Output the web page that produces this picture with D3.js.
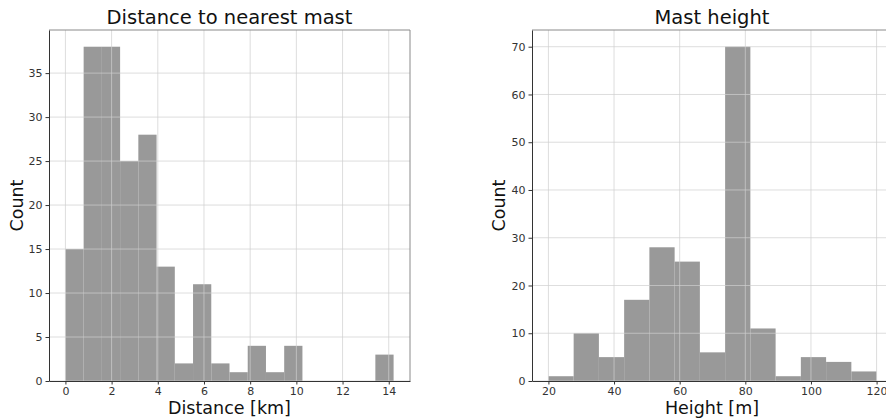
<!DOCTYPE html>
<html><head><meta charset="utf-8">
<script src="https://cdn.jsdelivr.net/npm/d3@7"></script>
<style>body{margin:0;background:#fff}svg{display:block}text{font-family:"DejaVu Sans",sans-serif}</style>
</head><body>
<svg id="c" width="886" height="418"></svg>
<script>
// Distance histogram (18 bins over 0..14.21 km)
const distMin = 0, distMax = 14.21;
const distCounts = [15, 38, 38, 25, 28, 13, 2, 11, 2, 1, 4, 1, 4, 0, 0, 0, 0, 3];
const distTicksX = [0, 2, 4, 6, 8, 10, 12, 14];
const distTicksY = [0, 5, 10, 15, 20, 25, 30, 35];
// Height histogram (13 bins over 20..120 m)
const hMin = 20, hMax = 120;
const hCounts = [1, 10, 5, 17, 28, 25, 6, 70, 11, 1, 5, 4, 2];
const hTicksX = [20, 40, 60, 80, 100, 120];
const hTicksY = [0, 10, 20, 30, 40, 50, 60, 70];

const svg = d3.select("#c");

function panel(o) {
  const g = svg.append("g");
  const pad = (o.max - o.min) * 0.05;
  const x = d3.scaleLinear().domain([o.min - pad, o.max + pad]).range([o.left, o.left + 361]);
  const ymax = d3.max(o.counts) * 1.05;
  const y = d3.scaleLinear().domain([0, ymax]).range([381, 30]);
  const w = (o.max - o.min) / o.counts.length;
  const bins = o.counts.map((c, i) => ({x0: o.min + i * w, x1: o.min + (i + 1) * w, c}));
  g.selectAll("rect.bar").data(bins.filter(d => d.c > 0)).join("rect")
    .attr("x", d => x(d.x0)).attr("width", d => x(d.x1) - x(d.x0))
    .attr("y", d => y(d.c)).attr("height", d => y(0) - y(d.c))
    .attr("fill", "#999999");
  // grid on top
  g.selectAll("line.gx").data(o.ticksX).join("line")
    .attr("x1", d => x(d)).attr("x2", d => x(d)).attr("y1", 30).attr("y2", 381)
    .attr("stroke", "#cfcfcf").attr("stroke-opacity", 0.7).attr("stroke-width", 1);
  g.selectAll("line.gy").data(o.ticksY).join("line")
    .attr("y1", d => y(d)).attr("y2", d => y(d)).attr("x1", o.left).attr("x2", o.left + 361)
    .attr("stroke", "#cfcfcf").attr("stroke-opacity", 0.7).attr("stroke-width", 1);
  // spines
  g.append("line").attr("x1", o.left).attr("x2", o.left + 361).attr("y1", 30).attr("y2", 30).attr("stroke", "#8a8a8a");
  g.append("line").attr("x1", o.left + 361).attr("x2", o.left + 361).attr("y1", 30).attr("y2", 381).attr("stroke", "#8a8a8a");
  // axes
  const ax = g.append("g").attr("transform", "translate(0,381)")
    .call(d3.axisBottom(x).tickValues(o.ticksX).tickSize(3.5).tickPadding(3).tickSizeOuter(0));
  const ay = g.append("g").attr("transform", `translate(${o.left},0)`)
    .call(d3.axisLeft(y).tickValues(o.ticksY).tickSize(3.5).tickPadding(3).tickSizeOuter(0));
  [ax, ay].forEach(a => {
    a.select(".domain").attr("stroke", "#333");
    a.selectAll(".tick line").attr("stroke", "#333");
    a.selectAll(".tick text").attr("fill", "#333").style("font-size", "11px").style("font-family", "DejaVu Sans");
  });
  const cx = o.left + 180.5;
  g.append("text").attr("x", o.titleX || cx).attr("y", 24).attr("text-anchor", "middle")
    .style("font-size", "19.5px").attr("fill", "#111").text(o.title);
  g.append("text").attr("x", o.titleX || cx).attr("y", 414).attr("text-anchor", "middle")
    .style("font-size", "17.5px").attr("fill", "#111").text(o.xlabel);
  g.append("text").attr("transform", `translate(${o.ylabX},205.5) rotate(-90)`).attr("text-anchor", "middle")
    .style("font-size", "17.5px").attr("fill", "#111").text("Count");
}

panel({left: 49, min: distMin, max: distMax, counts: distCounts, ticksX: distTicksX, ticksY: distTicksY,
  title: "Distance to nearest mast", xlabel: "Distance [km]", ylabX: 23});
panel({left: 532, min: hMin, max: hMax, counts: hCounts, ticksX: hTicksX, ticksY: hTicksY,
  title: "Mast height", xlabel: "Height [m]", ylabX: 505, titleX: 712});
</script>
</body></html>
